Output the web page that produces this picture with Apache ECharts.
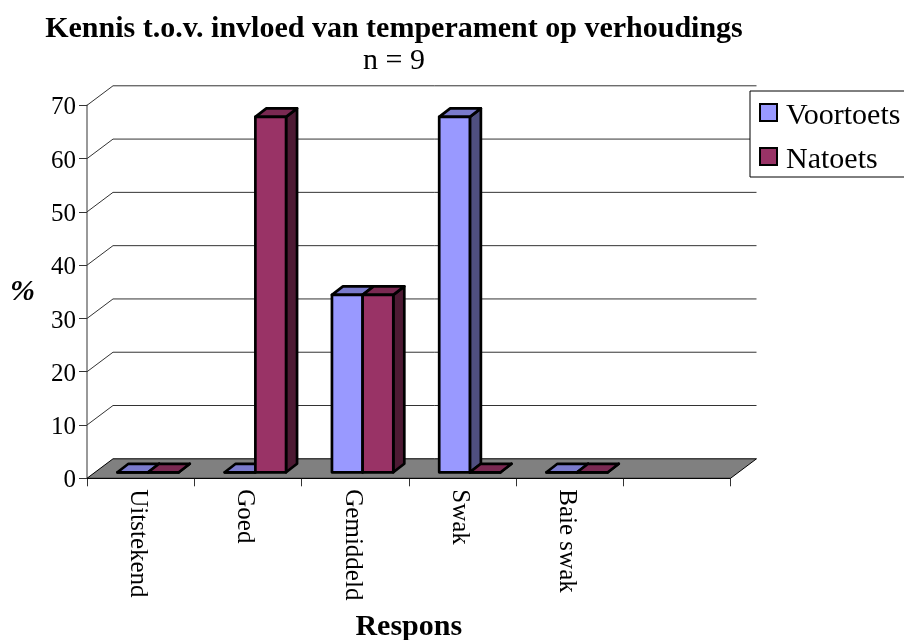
<!DOCTYPE html>
<html><head><meta charset="utf-8">
<style>html,body{margin:0;padding:0;background:#fff}#c{width:904px;height:640px}</style>
<script src="https://cdn.jsdelivr.net/npm/echarts@6/dist/echarts.min.js"></script>
</head><body><div id="c"></div>
<script>
var categories = ['Uitstekend','Goed','Gemiddeld','Swak','Baie swak',''];
var voortoets = [0,0,33.3,66.7,0];
var natoets = [0,66.7,33.3,0,0];
var yTicks = [0,10,20,30,40,50,60,70];
var FONT = '"Liberation Serif","Times New Roman",serif';

// 3D projection look (pixels)
var WALL_DX = 26, WALL_DY = -19.5;
var BAR_DX0 = 7.5, BAR_DY0 = -6, BAR_DDX = 11, BAR_DDY = -8.5;
var BAR_FRAC = 0.286;

function wallItem(params, api) {
  var v = api.value(1);
  var half = api.size([1,0])[0] / 2;
  var a = api.coord([0, v]), b = api.coord([categories.length - 1, v]);
  var x0 = a[0] - half, x1 = b[0] + half, y = a[1];
  var children = [];
  if (v === 0) {
    children.push({type:'polygon', shape:{points:[[x0,y],[x1,y],[x1+WALL_DX,y+WALL_DY],[x0+WALL_DX,y+WALL_DY]]},
      style:{fill:'#808080', stroke:'#000', lineWidth:1}});
  } else {
    children.push({type:'polyline', shape:{points:[[x0,y],[x0+WALL_DX,y+WALL_DY],[x1+WALL_DX,y+WALL_DY]]},
      style:{fill:null, stroke:'#333', lineWidth:1}});
  }
  return {type:'group', children:children, silent:true};
}

function barItem(shift, colors) {
  return function (params, api) {
    var c = api.coord([api.value(0), api.value(1)]);
    var base = api.coord([api.value(0), 0]);
    var w = api.size([1,0])[0] * BAR_FRAC;
    var xl = c[0] + BAR_DX0 + (shift < 0 ? -w : 0), xr = xl + w;
    var yb = base[1] + BAR_DY0, yt = c[1] + BAR_DY0;
    var st = {stroke:'#000', lineWidth:2.7, lineJoin:'round'};
    function poly(pts, fill) {
      return {type:'polygon', shape:{points:pts}, style:Object.assign({fill:fill}, st)};
    }
    return {type:'group', silent:true, children:[
      poly([[xr,yb],[xr+BAR_DDX,yb+BAR_DDY],[xr+BAR_DDX,yt+BAR_DDY],[xr,yt]], colors[2]),
      poly([[xl,yt],[xr,yt],[xr+BAR_DDX,yt+BAR_DDY],[xl+BAR_DDX,yt+BAR_DDY]], colors[1]),
      poly([[xl,yb],[xr,yb],[xr,yt],[xl,yt]], colors[0])
    ]};
  };
}

function pairs(arr){ return arr.map(function(v,i){return [i,v];}); }

var chart = echarts.init(document.getElementById('c'), null, {renderer:'canvas'});
chart.setOption({
  animation:false,
  backgroundColor:'#fff',
  title:{
    text:'Kennis t.o.v. invloed van temperament op verhoudings',
    subtext:'n = 9',
    left:389, top:9, textAlign:'center', itemGap:2,
    textStyle:{fontFamily:FONT, fontWeight:'bold', fontSize:30, color:'#000'},
    subtextStyle:{fontFamily:FONT, fontSize:30, color:'#000'}
  },
  grid:{left:87, right:173.5, top:105.3, bottom:161.7, containLabel:false, outerBoundsMode:'none'},
  legend:{
    orient:'vertical', left:750, top:91, padding:[10.5,6,1.5,9],
    itemWidth:17, itemHeight:17, itemGap:14,
    backgroundColor:'#fff', borderColor:'#000', borderWidth:1, borderRadius:0,
    icon:'rect',
    formatter:'{a|{name}}',
    textStyle:{fontFamily:FONT, fontSize:30, color:'#000',
      rich:{a:{fontFamily:FONT, fontSize:30, color:'#000', padding:[8,0,0,4]}}},
    data:[
      {name:'Voortoets', itemStyle:{color:'#9999FF', borderColor:'#000', borderWidth:2}},
      {name:'Natoets', itemStyle:{color:'#993366', borderColor:'#000', borderWidth:2}}
    ]
  },
  xAxis:{
    type:'category', data:categories, boundaryGap:true,
    name:'Respons', nameLocation:'middle', nameGap:134,
    nameTextStyle:{fontFamily:FONT, fontWeight:'bold', fontSize:30, color:'#000'},
    axisLine:{show:true, lineStyle:{color:'#000', width:1}},
    axisTick:{show:true, length:8, alignWithLabel:false, lineStyle:{color:'#333', width:1}},
    axisLabel:{rotate:-90, margin:11, interval:0, fontFamily:FONT, fontSize:25, color:'#000', verticalAlign:'top', lineHeight:6},
    splitLine:{show:false}
  },
  yAxis:{
    type:'value', min:0, max:70, interval:10,
    name:'%', nameLocation:'middle', nameRotate:0, nameGap:52,
    nameTextStyle:{fontFamily:FONT, fontWeight:'bold', fontStyle:'italic', fontSize:30, color:'#000'},
    axisLine:{show:true, lineStyle:{color:'#777', width:1.5}},
    axisTick:{show:true, length:8, lineStyle:{color:'#333', width:1}},
    axisLabel:{margin:11, fontFamily:FONT, fontSize:25, color:'#000', verticalAlign:'top', lineHeight:5},
    splitLine:{show:false}
  },
  series:[
    {type:'custom', name:'wall', z:1, silent:true, renderItem:wallItem, clip:false,
     data:yTicks.map(function(v){return [0,v];}), encode:{x:0,y:1}, tooltip:{show:false}},
    {type:'custom', name:'Voortoets', z:3, clip:false, itemStyle:{color:'#9999FF'},
     renderItem:barItem(-1,['#9999FF','#7A7ACC','#4F4F80']), data:pairs(voortoets), encode:{x:0,y:1}},
    {type:'custom', name:'Natoets', z:4, clip:false, itemStyle:{color:'#993366'},
     renderItem:barItem(1,['#993366','#7A2952','#4D1A33']), data:pairs(natoets), encode:{x:0,y:1}}
  ]
});
</script></body></html>
